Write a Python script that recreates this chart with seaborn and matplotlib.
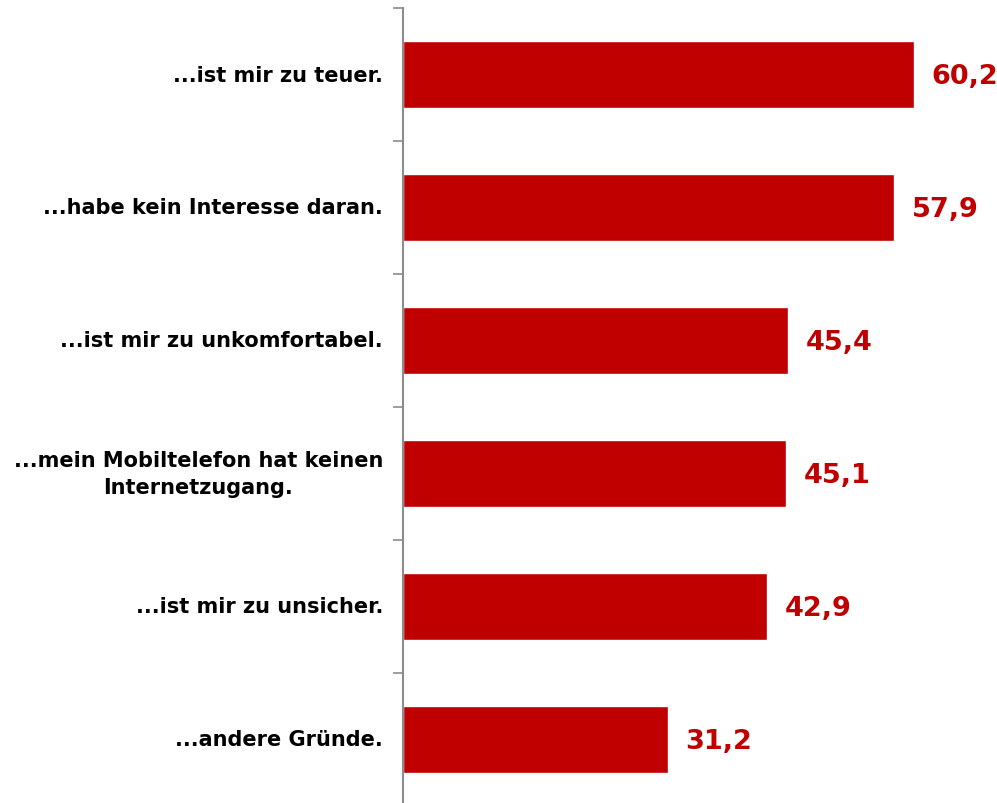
import matplotlib
matplotlib.use("Agg")
import matplotlib.pyplot as plt
import seaborn as sns
import pandas as pd

categories = [
    "...ist mir zu teuer.",
    "...habe kein Interesse daran.",
    "...ist mir zu unkomfortabel.",
    "...mein Mobiltelefon hat keinen\nInternetzugang.",
    "...ist mir zu unsicher.",
    "...andere Gründe.",
]
values = [60.2, 57.9, 45.4, 45.1, 42.9, 31.2]
value_labels = ["60,2", "57,9", "45,4", "45,1", "42,9", "31,2"]

bar_color = "#C00000"

sns.set_theme(style="white")
plt.rcParams["font.family"] = ["DejaVu Sans"]

df = pd.DataFrame({"grund": categories, "anteil": values})

fig = plt.figure(figsize=(9.97, 8.04), dpi=100)
ax = fig.add_axes([403 / 997, -3 / 804, 594 / 997, 798 / 804])

sns.barplot(data=df, y="grund", x="anteil", orient="h", color=bar_color,
            saturation=1, width=0.5, ax=ax)

ax.set_xlim(0, 70)
ax.set_ylim(len(categories) - 0.5, -0.5)
ax.set_xlabel("")
ax.set_ylabel("")
ax.set_xticks([])

# category labels drawn as text so multi-line entries stay centred
ax.set_yticks([])
for i, cat in enumerate(categories):
    ax.text(-20 / 8.486, i, cat, ha="right", va="center", multialignment="center",
            fontsize=15, fontweight="bold", color="black", linespacing=1.45)

# tick marks between categories
ax.set_yticks([i + 0.5 for i in range(-1, len(categories))], minor=True)
ax.tick_params(axis="y", which="minor", left=True, length=7, width=1.2,
               color="#8c8c8c", direction="out")

for side in ["top", "right", "bottom"]:
    ax.spines[side].set_visible(False)
ax.spines["left"].set_color("#8c8c8c")
ax.spines["left"].set_linewidth(1.5)

for i, (v, lab) in enumerate(zip(values, value_labels)):
    ax.text(v + 2.1, i + 0.01, lab, ha="left", va="center", fontsize=19.5,
            fontweight="bold", color=bar_color)

fig.savefig("out.png", dpi=100)
